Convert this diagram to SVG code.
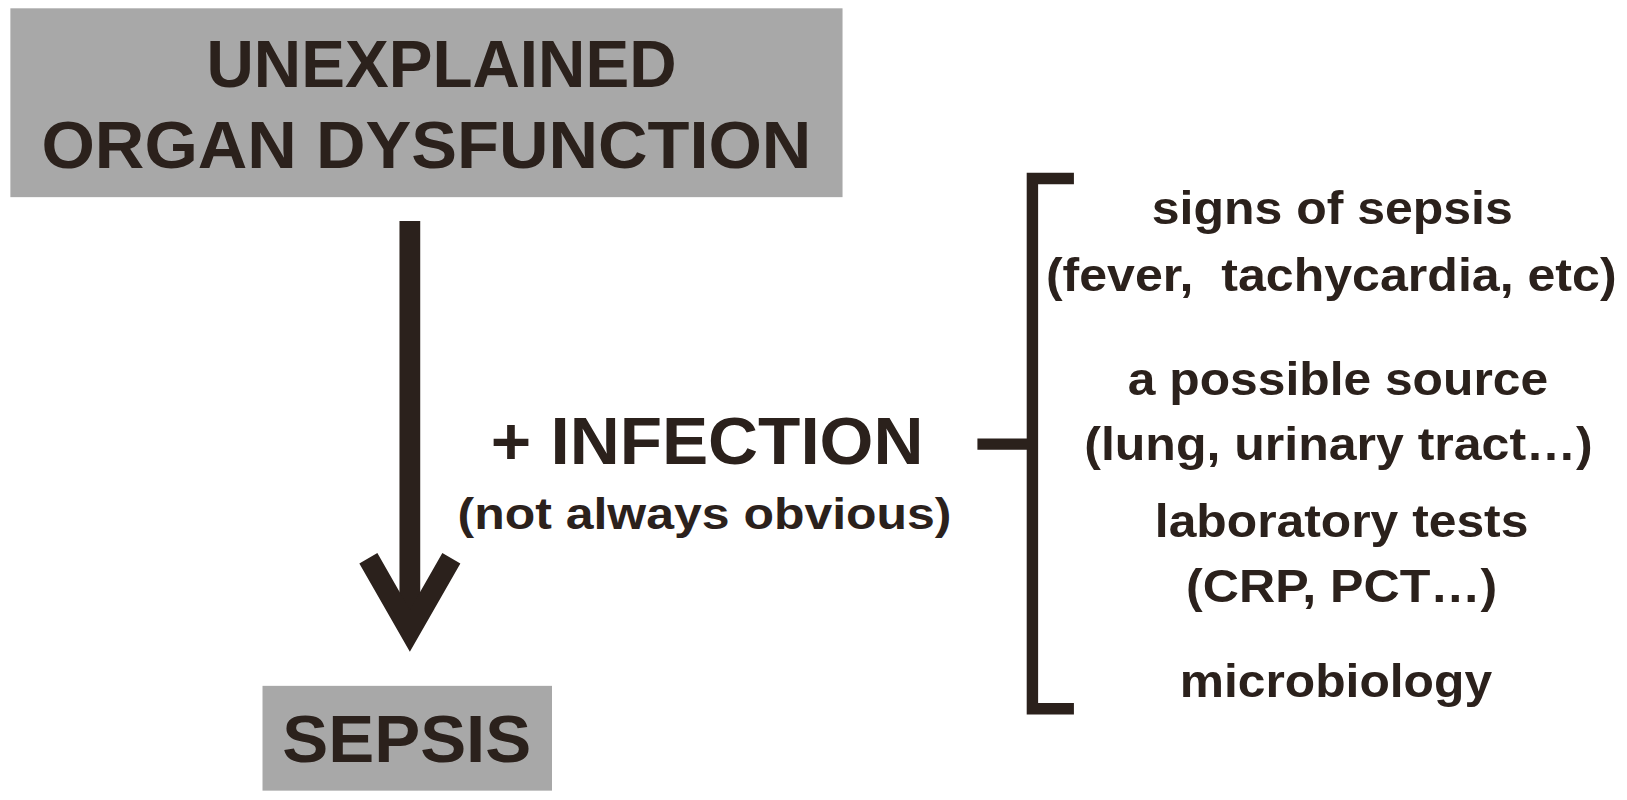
<svg xmlns="http://www.w3.org/2000/svg" width="1627" height="800" viewBox="0 0 1627 800">
<style>
text{font-family:"Liberation Sans",Arial,sans-serif;font-weight:bold;fill:#2b211c}
.big{font-size:64px}
.r{font-size:45px}
.ln{stroke:#2b211c;fill:none}
</style>
<rect width="1627" height="800" fill="#fff"/>
<g transform="scale(1.0376)">
<g id="top">
<rect x="10" y="8" width="802" height="182" fill="#a8a8a8"/>
<text class="big" x="199" y="84" textLength="453" lengthAdjust="spacingAndGlyphs">UNEXPLAINED</text>
<text class="big" x="40" y="162" textLength="742" lengthAdjust="spacingAndGlyphs">ORGAN DYSFUNCTION</text>
</g>
<g id="sepsis">
<rect x="253" y="661" width="279" height="101" fill="#a8a8a8"/>
<text class="big" x="272" y="734" textLength="240" lengthAdjust="spacingAndGlyphs">SEPSIS</text>
</g>
<g id="infection">
<text x="473" y="447" style="font-size:64px" textLength="417" lengthAdjust="spacingAndGlyphs">+ INFECTION</text>
<text x="441" y="510" style="font-size:42px" textLength="476" lengthAdjust="spacingAndGlyphs">(not always obvious)</text>
</g>
<g id="items">
<text class="r" x="1110" y="216" textLength="348" lengthAdjust="spacingAndGlyphs">signs of sepsis</text>
<text class="r" x="1008" y="280" textLength="550" lengthAdjust="spacingAndGlyphs" xml:space="preserve">(fever,  tachycardia, etc)</text>
<text class="r" x="1087" y="381" textLength="405" lengthAdjust="spacingAndGlyphs">a possible source</text>
<text class="r" x="1045" y="443" textLength="490" lengthAdjust="spacingAndGlyphs">(lung, urinary tract…)</text>
<text class="r" x="1113" y="518" textLength="360" lengthAdjust="spacingAndGlyphs">laboratory tests</text>
<text class="r" x="1143" y="580" textLength="300" lengthAdjust="spacingAndGlyphs">(CRP, PCT…)</text>
<text class="r" x="1137" y="672" textLength="301" lengthAdjust="spacingAndGlyphs">microbiology</text>
</g>
<g id="connectors">
<line class="ln" x1="395" y1="213" x2="395" y2="605" stroke-width="20"/>
<polyline class="ln" points="355,538 395,608 435,538" stroke-width="20" stroke-linejoin="miter"/>
<path class="ln" d="M942,428 H995 M1035,172 H995 V683 H1035" stroke-width="11"/>
</g>
</g>
</svg>
